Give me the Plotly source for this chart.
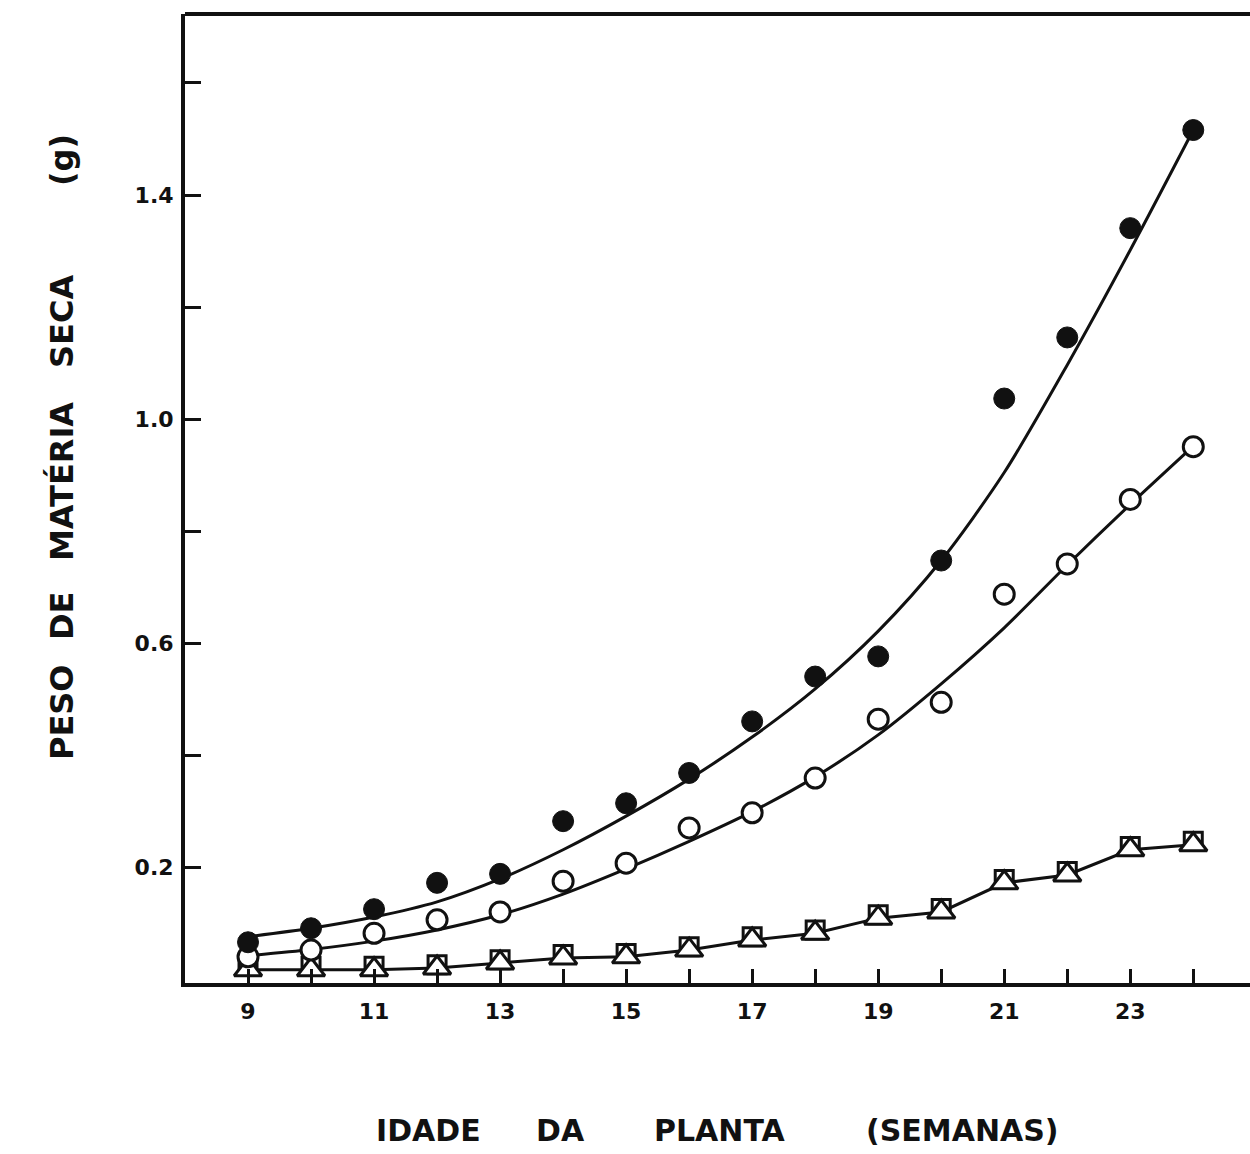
import plotly.graph_objects as go

# Plant age (weeks)
weeks = list(range(9, 25))

# Dry matter weight (g) - observed means
filled_obs = [0.067, 0.092, 0.126, 0.173, 0.189, 0.283, 0.315, 0.369,
              0.461, 0.541, 0.577, 0.748, 1.037, 1.146, 1.341, 1.516]
open_obs = [0.041, 0.053, 0.083, 0.107, 0.121, 0.176, 0.208, 0.271,
            0.298, 0.360, 0.465, 0.495, 0.688, 0.742, 0.857, 0.951]
triangle_obs = [0.018, 0.018, 0.018, 0.021, 0.030, 0.039, 0.041, 0.053,
                0.071, 0.083, 0.110, 0.121, 0.173, 0.187, 0.232, 0.241]
square_obs = [0.024, 0.024, 0.024, 0.027, 0.036, 0.045, 0.047, 0.059,
              0.077, 0.089, 0.116, 0.127, 0.179, 0.193, 0.238, 0.247]

# Fitted growth curves
filled_fit = [0.077, 0.092, 0.112, 0.139, 0.180, 0.232, 0.292, 0.358,
              0.433, 0.519, 0.622, 0.748, 0.905, 1.097, 1.302, 1.516]
open_fit = [0.043, 0.054, 0.069, 0.089, 0.116, 0.153, 0.198, 0.247,
            0.300, 0.362, 0.437, 0.528, 0.628, 0.740, 0.848, 0.952]

# Axis ticks
x_ticks = list(range(9, 25))
x_ticklabels = [str(w) if w % 2 == 1 else "" for w in x_ticks]
y_ticks = [0.2, 0.4, 0.6, 0.8, 1.0, 1.2, 1.4, 1.6]
y_ticklabels = ["0.2", "", "0.6", "", "1.0", "", "1.4", ""]

INK = "#111111"
FONT = "DejaVu Sans"

fig = go.Figure()

# Lower series: squares behind triangles, joined by straight segments
fig.add_trace(go.Scatter(
    x=weeks, y=triangle_obs, mode="lines",
    line=dict(color=INK, width=3), hoverinfo="skip", showlegend=False))
fig.add_trace(go.Scatter(
    x=weeks, y=square_obs, mode="markers",
    marker=dict(symbol="square", size=18, color="white",
                line=dict(color=INK, width=3)),
    showlegend=False))
fig.add_trace(go.Scatter(
    x=weeks, y=triangle_obs, mode="markers",
    marker=dict(symbol="triangle-up", size=24, color="white",
                line=dict(color=INK, width=3)),
    showlegend=False))

# Open circles with fitted curve
fig.add_trace(go.Scatter(
    x=weeks, y=open_fit, mode="lines",
    line=dict(color=INK, width=3, shape="spline", smoothing=0.8),
    hoverinfo="skip", showlegend=False))
fig.add_trace(go.Scatter(
    x=weeks, y=open_obs, mode="markers",
    marker=dict(symbol="circle", size=20, color="white",
                line=dict(color=INK, width=3)),
    showlegend=False))

# Filled circles with fitted curve
fig.add_trace(go.Scatter(
    x=weeks, y=filled_fit, mode="lines",
    line=dict(color=INK, width=3, shape="spline", smoothing=0.8),
    hoverinfo="skip", showlegend=False))
fig.add_trace(go.Scatter(
    x=weeks, y=filled_obs, mode="markers",
    marker=dict(symbol="circle", size=21, color=INK,
                line=dict(color=INK, width=1)),
    showlegend=False))

tick_font = dict(family=FONT, size=22, color=INK, weight="bold")

fig.update_xaxes(
    range=[8.0, 24.9],
    tickmode="array", tickvals=x_ticks, ticktext=x_ticklabels,
    ticks="inside", ticklen=14, tickwidth=3, tickcolor=INK,
    showline=True, linewidth=4, linecolor=INK,
    showgrid=False, zeroline=False,
    ticklabelstandoff=6,
    tickfont=tick_font,
)
fig.update_yaxes(
    range=[-0.0057, 1.723],
    tickmode="array", tickvals=y_ticks, ticktext=y_ticklabels,
    ticks="inside", ticklen=16, tickwidth=3, tickcolor=INK,
    showline=True, linewidth=4, linecolor=INK,
    showgrid=False, zeroline=False,
    ticklabelstandoff=3,
    tickfont=tick_font,
)

# Frame line along the top of the plot area
fig.add_shape(type="line", xref="paper", yref="paper",
              x0=0, x1=1, y0=1, y1=1,
              line=dict(color=INK, width=4))

# Axis titles, word by word with wide tracking
title_font = dict(family=FONT, size=30, color=INK, weight="bold")
x_words = [("IDADE", 428), ("DA", 560), ("PLANTA", 720), ("(SEMANAS)", 962)]
for word, px in x_words:
    fig.add_annotation(
        text=word, xref="paper", yref="paper",
        x=(px - 185) / 1065, y=-(1130 - 983) / 969,
        showarrow=False, font=title_font, xanchor="center", yanchor="middle")

y_words = [("PESO", 712), ("DE", 616), ("MATÉRIA", 482), ("SECA", 322), ("(g)", 160)]
for word, py in y_words:
    fig.add_annotation(
        text=word, xref="paper", yref="paper",
        x=-(185 - 62) / 1065, y=(983 - py) / 969,
        textangle=-90, showarrow=False,
        font=dict(family=FONT, size=32, color=INK, weight="bold"),
        xanchor="center", yanchor="middle")

fig.update_layout(
    width=1250, height=1154,
    margin=dict(l=185, r=0, t=14, b=171),
    paper_bgcolor="white", plot_bgcolor="white",
    showlegend=False,
)

fig.write_html("out.html")
